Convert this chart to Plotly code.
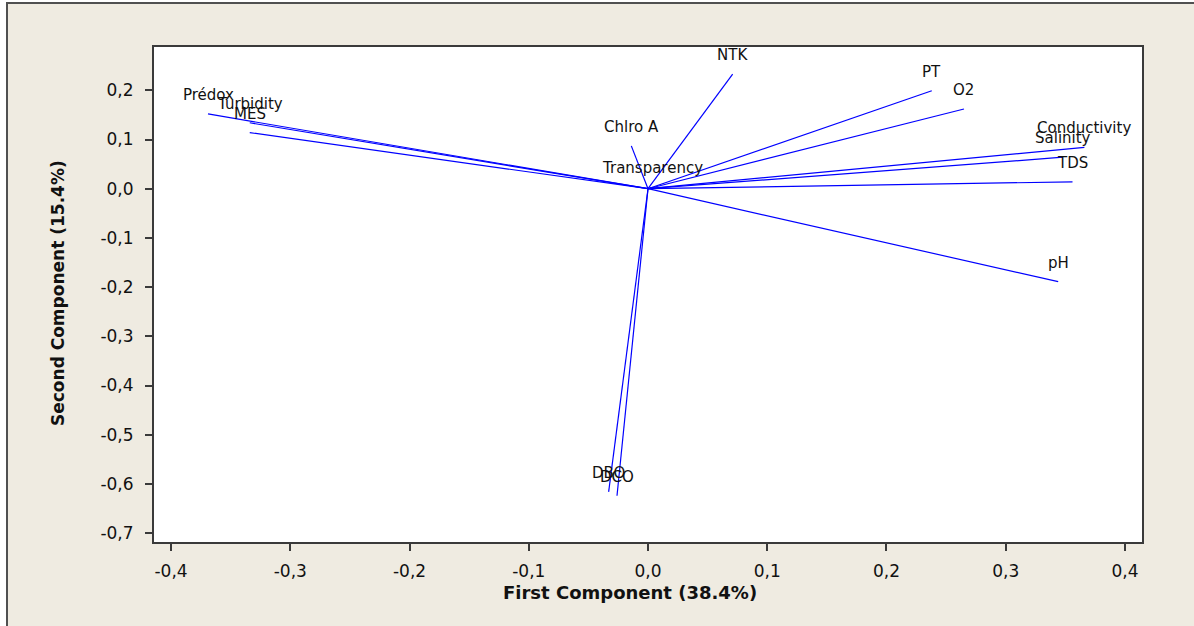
import plotly.graph_objects as go

# Loadings
variables = ["Prédox", "Turbidity", "MES", "Chlro A", "NTK", "PT", "O2",
             "Conductivity", "Salinity", "TDS", "Transparency", "pH", "DBO", "DCO"]
pc1 = [-0.369, -0.334, -0.334, -0.014, 0.071, 0.238, 0.265,
       0.366, 0.348, 0.356, 0.004, 0.344, -0.033, -0.026]
pc2 = [0.152, 0.134, 0.114, 0.087, 0.233, 0.199, 0.162,
       0.084, 0.064, 0.014, 0.003, -0.189, -0.616, -0.624]

x_tickvals = [-0.4, -0.3, -0.2, -0.1, 0.0, 0.1, 0.2, 0.3, 0.4]
x_ticktext = ["-0,4", "-0,3", "-0,2", "-0,1", "0,0", "0,1", "0,2", "0,3", "0,4"]
y_tickvals = [0.2, 0.1, 0.0, -0.1, -0.2, -0.3, -0.4, -0.5, -0.6, -0.7]
y_ticktext = ["0,2", "0,1", "0,0", "-0,1", "-0,2", "-0,3", "-0,4", "-0,5", "-0,6", "-0,7"]

xs, ys = [], []
for a, b in zip(pc1, pc2):
    xs += [0, a, None]
    ys += [0, b, None]

fig = go.Figure()
fig.add_trace(go.Scatter(x=xs, y=ys, mode="lines",
                         line=dict(color="#0000FF", width=1.2),
                         hoverinfo="skip", showlegend=False))

W, H = 1194, 626
L, R, T, B = 154, 1142, 47, 542
pw, ph = R - L, B - T

def px(xp):
    return (xp - L) / pw

def py(yp):
    return (B - yp) / ph

annotations = []
for name, a, b in zip(variables, pc1, pc2):
    annotations.append(dict(x=a, y=b, xref="x", yref="y", text=name,
                            showarrow=False, xanchor="center", yanchor="middle",
                            yshift=19,
                            font=dict(family="DejaVu Sans", size=15, color="#111111")))

annotations.append(dict(x=px(630), y=py(592), xref="paper", yref="paper",
                        text="<b>First Component (38.4%)</b>", showarrow=False,
                        xanchor="center", yanchor="middle",
                        font=dict(family="DejaVu Sans", size=18, color="#111111")))
annotations.append(dict(x=px(58), y=py(293), xref="paper", yref="paper",
                        text="<b>Second Component (15.4%)</b>", showarrow=False,
                        textangle=-90, xanchor="center", yanchor="middle",
                        font=dict(family="DejaVu Sans", size=17, color="#111111")))

shapes = [
    dict(type="rect", xref="paper", yref="paper", layer="below",
         x0=px(7), x1=px(1210), y0=py(640), y1=py(3),
         fillcolor="#EFEBE1", line=dict(color="#505050", width=2)),
    dict(type="rect", xref="paper", yref="paper", layer="below",
         x0=0, x1=1, y0=0, y1=1, fillcolor="#FFFFFF", line=dict(width=0)),
]

axis_common = dict(showgrid=False, zeroline=False, showline=True, mirror=True,
                   linecolor="#3a3a3a", linewidth=2, ticks="outside", ticklen=7,
                   tickcolor="#3a3a3a", tickwidth=1.5,
                   tickfont=dict(family="DejaVu Sans", size=17, color="#111111"))

fig.update_layout(
    width=W, height=H,
    margin=dict(l=L, r=W - R, t=T, b=H - B, autoexpand=False),
    paper_bgcolor="#FFFFFF", plot_bgcolor="#FFFFFF",
    xaxis=dict(range=[-0.4143, 0.4143], tickvals=x_tickvals, ticktext=x_ticktext,
               ticklabelstandoff=6, **axis_common),
    yaxis=dict(range=[-0.718, 0.288], tickvals=y_tickvals, ticktext=y_ticktext,
               ticklabelstandoff=8, **axis_common),
    annotations=annotations,
    shapes=shapes,
    showlegend=False,
)

fig.write_html("out.html")
